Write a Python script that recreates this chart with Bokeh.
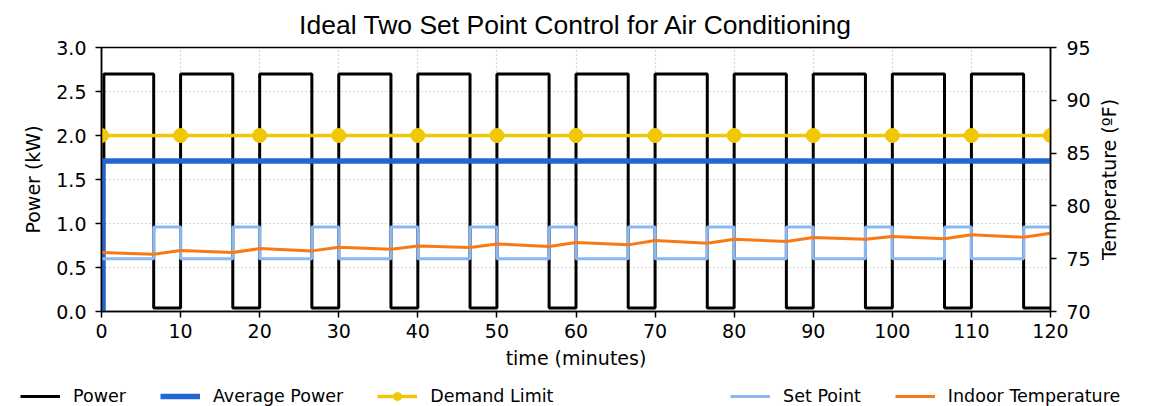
import math
from bokeh.plotting import figure
from bokeh.layouts import column, row
from bokeh.core.properties import value
from bokeh.models import Range1d, LinearAxis, Legend, LegendItem, NumeralTickFormatter
from bokeh.embed import file_html
from bokeh.resources import INLINE

# ---- data ----
power_time = [0.0, 0.3, 6.6, 10.0, 16.6, 20.0, 26.6, 30.0, 36.6, 40.0, 46.6, 50.0, 56.6,
              60.0, 66.6, 70.0, 76.6, 80.0, 86.6, 90.0, 96.6, 100.0, 106.6, 110.0, 116.6, 120.0]
power_kw = [0.0, 2.7, 0.04, 2.7, 0.04, 2.7, 0.04, 2.7, 0.04, 2.7, 0.04, 2.7, 0.04,
            2.7, 0.04, 2.7, 0.04, 2.7, 0.04, 2.7, 0.04, 2.7, 0.04, 2.7, 0.04, 0.04]

avg_time = [0.15, 0.15, 120.0]
avg_kw = [0.0, 1.71, 1.71]

demand_time = [0, 10, 20, 30, 40, 50, 60, 70, 80, 90, 100, 110, 120]
demand_kw = [2.0, 2.0, 2.0, 2.0, 2.0, 2.0, 2.0, 2.0, 2.0, 2.0, 2.0, 2.0, 2.0]

set_time = [0.0, 6.6, 10.0, 16.6, 20.0, 26.6, 30.0, 36.6, 40.0, 46.6, 50.0, 56.6, 60.0,
            66.6, 70.0, 76.6, 80.0, 86.6, 90.0, 96.6, 100.0, 106.6, 110.0, 116.6, 120.0]
set_temp = [75, 78, 75, 78, 75, 78, 75, 78, 75, 78, 75, 78, 75,
            78, 75, 78, 75, 78, 75, 78, 75, 78, 75, 78, 78]

indoor_time = [0.0, 6.6, 10.0, 16.6, 20.0, 26.6, 30.0, 36.6, 40.0, 46.6, 50.0, 56.6, 60.0,
               66.6, 70.0, 76.6, 80.0, 86.6, 90.0, 96.6, 100.0, 106.6, 110.0, 116.6, 120.0]
indoor_temp = [75.58, 75.43, 75.77, 75.58, 75.96, 75.74, 76.09, 75.90, 76.21, 76.06, 76.40,
               76.15, 76.53, 76.31, 76.72, 76.47, 76.85, 76.62, 77.00, 76.85, 77.10, 76.88,
               77.26, 77.04, 77.42]

x_ticks = [0, 10, 20, 30, 40, 50, 60, 70, 80, 90, 100, 110, 120]
y_ticks = [0.0, 0.5, 1.0, 1.5, 2.0, 2.5, 3.0]
t_ticks = [70, 75, 80, 85, 90, 95]

legend_labels = ["Power", "Average Power", "Demand Limit", "Set Point", "Indoor Temperature"]
right_label = "Temperature (ºF)"

FONT = "DejaVu Sans"
FS = "19px"
LFS = "17.5px"

C_POWER = "black"
C_AVG = "#2166d4"
C_DEM = "#f0c808"
C_SET = "#8ab8f5"
C_IN = "#f97a14"

p = figure(width=1095, height=376, output_backend="svg", toolbar_location=None,
           x_range=Range1d(0, 120), y_range=Range1d(0, 3),
           min_border_left=101, min_border_right=45, min_border_top=47, min_border_bottom=65,
           title="Ideal Two Set Point Control for Air Conditioning")
p.extra_y_ranges = {"temp": Range1d(70, 95)}

p.title.align = "center"
p.title.text_font = "Liberation Sans"
p.title.text_font_size = "26.5px"
p.title.text_font_style = "normal"
p.title.text_color = "black"
p.title.standoff = 15
p.title.offset = 29  # keep the title centred over the frame despite the side strip

p.outline_line_color = "black"
p.outline_line_width = 1.5
p.background_fill_color = "white"
p.border_fill_color = "white"

p.step(power_time, power_kw, mode="after", line_color=C_POWER, line_width=3)
p.line(avg_time, avg_kw, line_color=C_AVG, line_width=5.5)
p.line(demand_time, demand_kw, line_color=C_DEM, line_width=3.5)
p.scatter(demand_time, demand_kw, size=14, fill_color=C_DEM, line_color=C_DEM)
p.step(set_time, set_temp, mode="after", line_color=C_SET, line_width=3, y_range_name="temp")
p.line(indoor_time, indoor_temp, line_color=C_IN, line_width=3, y_range_name="temp")

# axes
right = LinearAxis(y_range_name="temp")
p.add_layout(right, "right")

p.xaxis.ticker = x_ticks
p.yaxis[0].ticker = y_ticks
p.yaxis[0].formatter = NumeralTickFormatter(format="0.0")
right.ticker = t_ticks
p.xaxis.axis_label = "time (minutes)"
p.yaxis[0].axis_label = "Power (kW)"

for ax in [p.xaxis[0], p.yaxis[0], right]:
    ax.axis_label_text_font = FONT
    ax.axis_label_text_font_size = FS
    ax.axis_label_text_font_style = "normal"
    ax.axis_label_text_color = "black"
    ax.major_label_text_font = FONT
    ax.major_label_text_font_size = FS
    ax.major_label_text_color = "black"
    ax.axis_line_color = "black"
    ax.axis_line_width = 1.5
    ax.major_tick_line_color = "black"
    ax.major_tick_line_width = 1.5
    ax.major_tick_out = 6
    ax.major_tick_in = 0
    ax.minor_tick_line_color = None
    ax.major_label_standoff = 8
    ax.axis_label_standoff = 8
p.xaxis[0].major_label_standoff = 6
p.xaxis[0].axis_label_standoff = 6
p.yaxis[0].major_label_standoff = 9
p.yaxis[0].axis_label_standoff = 9
right.major_label_standoff = 10

p.xgrid.grid_line_color = "#b0b0b0"
p.xgrid.grid_line_dash = "1 3"
p.xgrid.grid_line_width = 1.2
p.ygrid.grid_line_color = "#b0b0b0"
p.ygrid.grid_line_dash = "1 3"
p.ygrid.grid_line_width = 1.2

# ---- right axis title strip (text reads bottom-to-top) ----
rp = figure(width=58, height=376, output_backend="svg", toolbar_location=None,
            x_range=Range1d(0, 58), y_range=Range1d(0, 376),
            x_axis_type=None, y_axis_type=None, min_border=0)
rp.frame_align = False
rp.outline_line_color = None
rp.grid.visible = False
rp.background_fill_color = "white"
rp.border_fill_color = "white"
rp.text(x=[13], y=[197], text=[right_label], angle=math.pi / 2,
        text_align="center", text_baseline="middle",
        text_font=value(FONT), text_font_size=value(FS), text_color="black")

# ---- legend strip (separate figure, same styles) ----
lp = figure(width=1153, height=30, output_backend="svg", toolbar_location=None,
            x_range=Range1d(10, 11), y_range=Range1d(10, 11),
            x_axis_type=None, y_axis_type=None, min_border=0)
lp.frame_align = False
lp.outline_line_color = None
lp.grid.visible = False
lp.background_fill_color = "white"
lp.border_fill_color = "white"

d_power = lp.line([0, 0], [0, 0], line_color=C_POWER, line_width=3)
d_avg = lp.line([0, 0], [0, 0], line_color=C_AVG, line_width=5.5)
d_dem_l = lp.line([0, 0], [0, 0], line_color=C_DEM, line_width=3.5)
d_dem_p = lp.scatter([0], [0], size=14, fill_color=C_DEM, line_color=C_DEM)
d_blank = lp.line([0, 0], [0, 0], line_alpha=0)
d_set = lp.line([0, 0], [0, 0], line_color=C_SET, line_width=3)
d_in = lp.line([0, 0], [0, 0], line_color=C_IN, line_width=3)

spacer = "\u00a0" * 10
leg = Legend(items=[LegendItem(label=legend_labels[0], renderers=[d_power]),
                    LegendItem(label=legend_labels[1], renderers=[d_avg]),
                    LegendItem(label=legend_labels[2], renderers=[d_dem_l, d_dem_p]),
                    LegendItem(label=spacer, renderers=[d_blank]),
                    LegendItem(label=legend_labels[3], renderers=[d_set]),
                    LegendItem(label=legend_labels[4], renderers=[d_in])],
             location=(20, 0))
leg.orientation = "horizontal"
leg.label_text_font = FONT
leg.label_text_font_size = LFS
leg.label_text_color = "black"
leg.glyph_width = 40
leg.glyph_height = 20
leg.label_standoff = 13
leg.spacing = 34
leg.padding = 0
leg.margin = 0
leg.border_line_color = None
leg.background_fill_alpha = 0
lp.add_layout(leg, "center")

layout = column(row(p, rp, spacing=0), lp, spacing=0)
open("out.html", "w").write(file_html(layout, INLINE))
